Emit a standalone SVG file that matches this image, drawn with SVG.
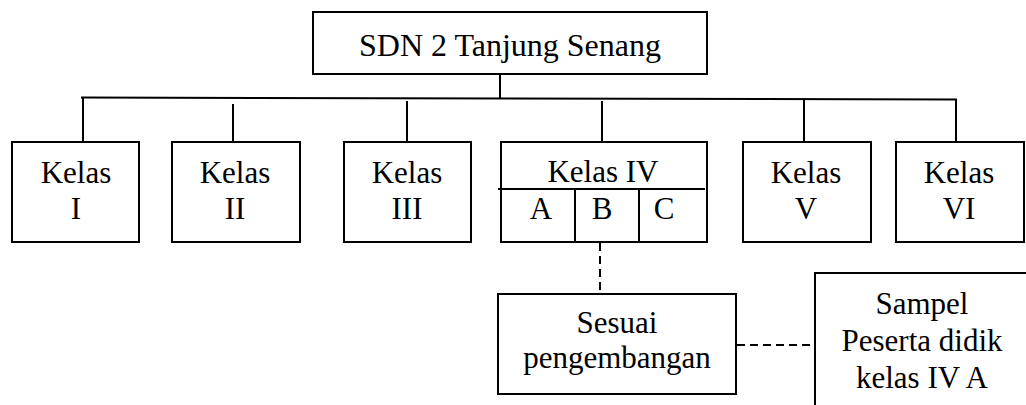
<svg xmlns="http://www.w3.org/2000/svg" width="1026" height="405" viewBox="0 0 1026 405">
<style>
.box{fill:#fff;stroke:#000;stroke-width:2}
.ln{stroke:#000;stroke-width:2;fill:none}
.dash{stroke:#000;stroke-width:2;fill:none;stroke-dasharray:8,5}
text{font-family:'Liberation Serif','Times New Roman',serif;font-size:31px;fill:#000;text-anchor:middle}
.title{font-size:32px}
</style>
<rect width="1026" height="405" fill="#fff"/>
<g id="connectors">
<line class="ln" x1="500" y1="74" x2="500" y2="98"/>
<line class="ln" x1="81" y1="97.5" x2="957" y2="99.5"/>
<line class="ln" x1="83" y1="97.5" x2="83" y2="142"/>
<line class="ln" x1="233" y1="104" x2="233" y2="142"/>
<line class="ln" x1="407" y1="101" x2="407" y2="142"/>
<line class="ln" x1="602" y1="101" x2="602" y2="142"/>
<line class="ln" x1="804" y1="100" x2="804" y2="142"/>
<line class="ln" x1="956" y1="99.5" x2="956" y2="142"/>
<line class="dash" x1="600" y1="243" x2="600" y2="294"/>
<line class="dash" x1="737" y1="345" x2="815" y2="345"/>
</g>
<g id="sdn">
<rect class="box" x="313" y="12" width="394" height="62"/>
<text class="title" x="510" y="56">SDN 2 Tanjung Senang</text>
</g>
<g id="kelas1">
<rect class="box" x="12" y="142" width="127" height="100"/>
<text x="76" y="183">Kelas</text>
<text x="76" y="219">I</text>
</g>
<g id="kelas2">
<rect class="box" x="172" y="142" width="128" height="100"/>
<text x="235" y="183">Kelas</text>
<text x="235" y="219">II</text>
</g>
<g id="kelas3">
<rect class="box" x="344" y="142" width="127" height="100"/>
<text x="407" y="183">Kelas</text>
<text x="407" y="219">III</text>
</g>
<g id="kelas4">
<rect class="box" x="501" y="142" width="206" height="100"/>
<line class="ln" x1="498" y1="189" x2="705" y2="189"/>
<line class="ln" x1="575" y1="189" x2="575" y2="242"/>
<line class="ln" x1="639" y1="189" x2="639" y2="242"/>
<text x="603" y="182">Kelas IV</text>
<text x="541" y="219">A</text>
<text x="602" y="219">B</text>
<text x="664" y="219">C</text>
</g>
<g id="kelas5">
<rect class="box" x="743" y="142" width="128" height="100"/>
<text x="806" y="183">Kelas</text>
<text x="806" y="219">V</text>
</g>
<g id="kelas6">
<rect class="box" x="896" y="142" width="128" height="100"/>
<text x="959" y="183">Kelas</text>
<text x="959" y="219">VI</text>
</g>
<g id="sesuai">
<rect class="box" x="498" y="294" width="238" height="100"/>
<text x="617" y="333">Sesuai</text>
<text x="617" y="368">pengembangan</text>
</g>
<g id="sampel">
<rect class="box" x="815" y="273" width="240" height="160"/>
<text x="922" y="314">Sampel</text>
<text x="922" y="351">Peserta didik</text>
<text x="922" y="388">kelas IV A</text>
</g>
</svg>
